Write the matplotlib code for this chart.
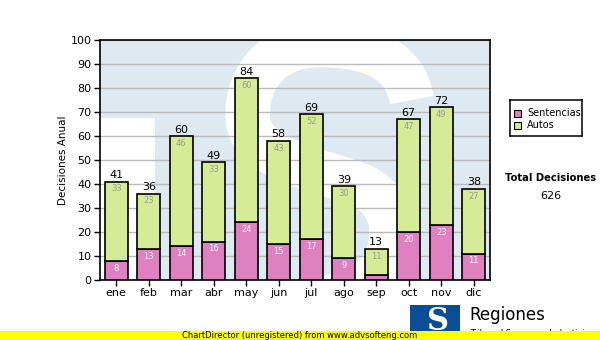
import matplotlib
matplotlib.use("Agg")
import matplotlib.pyplot as plt
from matplotlib.path import Path
from matplotlib.patches import PathPatch, Rectangle
import numpy as np

plt.rcParams['font.family'] = ['DejaVu Sans']

meses = ["ene", "feb", "mar", "abr", "may", "jun", "jul", "ago", "sep", "oct", "nov", "dic"]
sentencias = [8, 13, 14, 16, 24, 15, 17, 9, 2, 20, 23, 11]
autos = [33, 23, 46, 33, 60, 43, 52, 30, 11, 47, 49, 27]
totales = [s + a for s, a in zip(sentencias, autos)]

C_SENT = "#df80c0"
C_AUTO = "#d5eb96"
W, H = 600, 340

fig = plt.figure(figsize=(6, 3.4), dpi=100)

def fx(px):
    return px / W

def fy(py):
    return 1 - py / H

# plot area in pixels: x 100..490, y 40..280
L, T, R, B = 100, 40, 490, 280
rect = [fx(L), fy(B), fx(R) - fx(L), fy(T) - fy(B)]

# watermark layer behind the chart
bg = fig.add_axes(rect, zorder=0)
bg.set_xlim(L, R)
bg.set_ylim(B, T)
bg.axis("off")
bg.add_patch(Rectangle((L, T), R - L, B - T, facecolor="#dfe9f2", edgecolor="none"))
bg.add_patch(Rectangle((L, 118), 55, B - 118, facecolor="white", edgecolor="none"))
verts = [(412, 100),
         (405, 60), (370, 45), (320, 45),
         (270, 45), (245, 80), (248, 120),
         (252, 160), (320, 170), (360, 185),
         (395, 200), (400, 240), (380, 270),
         (365, 290), (330, 300), (300, 300)]
codes = [Path.MOVETO] + [Path.CURVE4] * 15
s_patch = PathPatch(Path(verts, codes), facecolor="none", edgecolor="white",
                    linewidth=32, capstyle="butt")
bg.add_patch(s_patch)
s_patch.set_clip_path(bg.patch)

ax = fig.add_axes(rect, zorder=1)
ax.set_facecolor("none")
x = np.arange(len(meses))
bw = 0.71
ax.bar(x, sentencias, bw, color=C_SENT, edgecolor="black", linewidth=1.2, zorder=3)
ax.bar(x, autos, bw, bottom=sentencias, color=C_AUTO, edgecolor="black", linewidth=1.2, zorder=3)

for i in range(len(meses)):
    ax.text(x[i], totales[i] + 0.6, str(totales[i]), ha="center", va="bottom",
            fontsize=8, color="black", zorder=4)
    ax.text(x[i], totales[i] - 1.2, str(autos[i]), ha="center", va="top",
            fontsize=6, color="#999999", zorder=4)
    if sentencias[i] >= 5:
        ax.text(x[i], sentencias[i] - 1.2, str(sentencias[i]), ha="center", va="top",
                fontsize=6, color="#f4f4f4", zorder=4)

ax.set_xlim(-0.5, len(meses) - 0.5)
ax.set_ylim(0, 100)
ax.set_yticks(range(0, 101, 10))
ax.set_xticks(x)
ax.set_xticklabels(meses, fontsize=8)
ax.tick_params(axis="y", labelsize=8, length=4, width=1, pad=2)
ax.tick_params(axis="x", length=4, width=1, pad=2)
ax.grid(axis="y", color="#bbbbbb", linewidth=1, zorder=1)
ax.set_axisbelow(True)
for sp in ax.spines.values():
    sp.set_linewidth(1.2)
ax.set_ylabel("Decisiones Anual", fontsize=7.5, labelpad=2)

# legend box
leg_ax = fig.add_axes([fx(510), fy(136), fx(582) - fx(510), fy(100) - fy(136)], zorder=2)
leg_ax.set_xlim(510, 582)
leg_ax.set_ylim(136, 100)
leg_ax.set_xticks([])
leg_ax.set_yticks([])
for sp in leg_ax.spines.values():
    sp.set_linewidth(1.1)
for yy, col, lab in [(113, C_SENT, "Sentencias"), (125, C_AUTO, "Autos")]:
    leg_ax.add_patch(Rectangle((514, yy - 3.5), 7, 7, facecolor=col, edgecolor="black", linewidth=0.8))
    leg_ax.text(527, yy, lab, fontsize=7, va="center", ha="left")

fig.text(fx(551), fy(178), "Total Decisiones", fontsize=7.2, fontweight="bold", ha="center", va="center")
fig.text(fx(551), fy(196), str(sum(totales)), fontsize=8, ha="center", va="center")

# logo at bottom right
fig.patches.append(Rectangle((fx(410), fy(340)), fx(460) - fx(410), fy(305) - fy(340),
                             transform=fig.transFigure, facecolor="#0b4d96", edgecolor="none", zorder=1))
fig.text(fx(438), fy(322), "S", fontsize=22, fontweight="bold", family="DejaVu Serif",
         color="white", ha="center", va="center", zorder=2)
fig.text(fx(469), fy(315), "Regiones", fontsize=12, ha="left", va="center", zorder=2)
fig.text(fx(470), fy(333), "Tribunal Supremo de Justicia", fontsize=6, ha="left", va="center", zorder=2)

# footer strip
fig.patches.append(Rectangle((0, 0), 1, fy(331), transform=fig.transFigure,
                             facecolor="#ffff00", edgecolor="none", zorder=5))
fig.text(0.5, fy(335.5), "ChartDirector (unregistered) from www.advsofteng.com", fontsize=6,
         ha="center", va="center", zorder=6)

fig.savefig("out.png", dpi=100)
